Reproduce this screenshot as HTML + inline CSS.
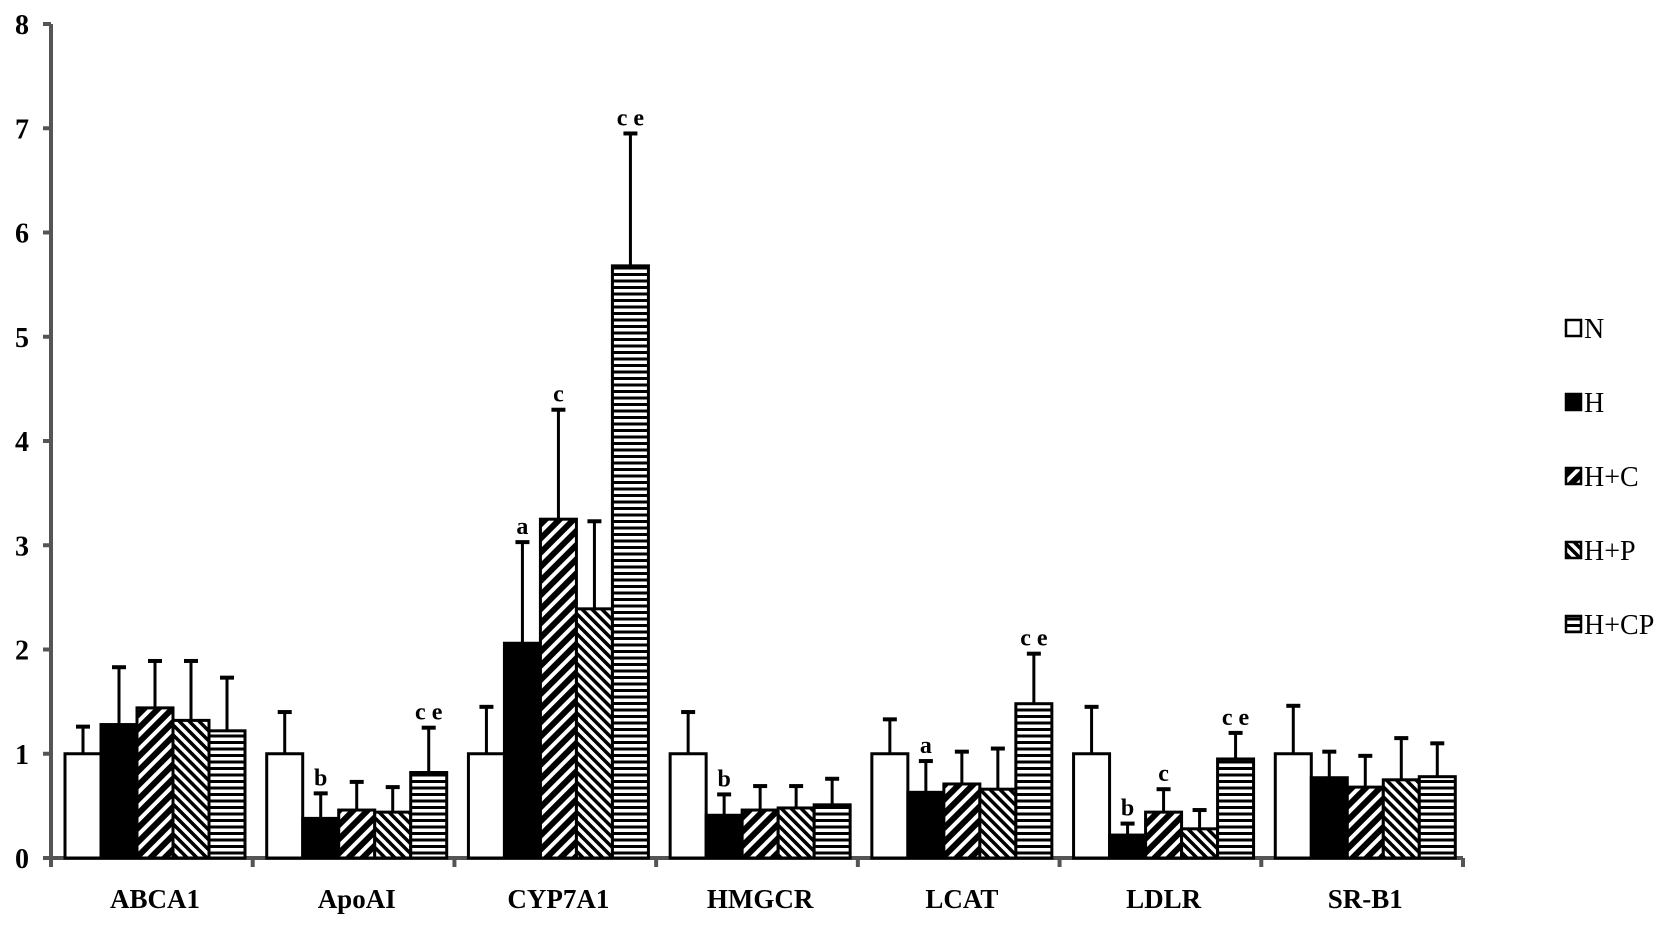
<!DOCTYPE html>
<html><head><meta charset="utf-8"><style>
html,body{margin:0;padding:0;background:#fff;}
svg{display:block;}
text{font-family:"Liberation Serif",serif;}
</style></head>
<body>
<svg id="chart" width="1677" height="925" viewBox="0 0 1677 925" xmlns="http://www.w3.org/2000/svg">
<defs>
<pattern id="pC" patternUnits="userSpaceOnUse" width="10" height="10" patternTransform="rotate(45)">
<rect width="10" height="10" fill="#fff"/><rect width="6" height="10" fill="#000"/></pattern>
<pattern id="pP" patternUnits="userSpaceOnUse" width="7" height="7" patternTransform="rotate(-45)">
<rect width="7" height="7" fill="#fff"/><rect width="3.5" height="7" fill="#000"/></pattern>
<pattern id="pCP" patternUnits="userSpaceOnUse" width="7" height="6.5">
<rect width="7" height="6.5" fill="#fff"/><rect width="7" height="3" fill="#000"/></pattern>
</defs>
</svg>
<script>
const categories = ["ABCA1","ApoAI","CYP7A1","HMGCR","LCAT","LDLR","SR-B1"];
const seriesNames = ["N","H","H+C","H+P","H+CP"];
const valN   = [1.0, 1.0, 1.0, 1.0, 1.0, 1.0, 1.0];
const valH   = [1.28,0.38,2.06,0.41,0.63,0.22,0.77];
const valHC  = [1.44,0.46,3.25,0.46,0.71,0.44,0.68];
const valHP  = [1.32,0.44,2.39,0.48,0.66,0.28,0.75];
const valHCP = [1.22,0.82,5.68,0.51,1.48,0.95,0.78];
const errN   = [0.26,0.40,0.45,0.40,0.33,0.45,0.46];
const errH   = [0.55,0.24,0.97,0.20,0.30,0.11,0.25];
const errHC  = [0.45,0.27,1.05,0.23,0.31,0.22,0.30];
const errHP  = [0.57,0.24,0.84,0.21,0.39,0.18,0.40];
const errHCP = [0.51,0.43,1.27,0.25,0.48,0.25,0.32];
const sigN   = ["","","","","","",""];
const sigH   = ["","b","a","b","a","b",""];
const sigHC  = ["","","c","","","c",""];
const sigHP  = ["","","","","","",""];
const sigHCP = ["","c e","c e","","c e","c e",""];
const yTicks = [0,1,2,3,4,5,6,7,8];

const values=[valN,valH,valHC,valHP,valHCP];
const errs=[errN,errH,errHC,errHP,errHCP];
const sigs=[sigN,sigH,sigHC,sigHP,sigHCP];
const fills=["#fff","#000","url(#pC)","url(#pP)","url(#pCP)"];
const NS="http://www.w3.org/2000/svg";
const svg=document.getElementById('chart');
const X0=51, X1=1463, Y0=858, YTOP=24, YMAX=8;
const catW=(X1-X0)/categories.length;
const barW=36, groupOff=14;
function y(v){return Y0-(v/YMAX)*(Y0-YTOP);}
function xBar(ci,si){return X0+ci*catW+groupOff+si*barW;}
function mk(tag,attrs,parent){const e=document.createElementNS(NS,tag);for(const k in attrs)e.setAttribute(k,attrs[k]);(parent||svg).appendChild(e);return e;}

const axes=mk('g',{});


const ya=mk('line',{x1:X0,y1:YTOP,x2:X0,y2:Y0+2,stroke:'#555','stroke-width':4},axes);


const xa=mk('line',{x1:X0-2,y1:Y0,x2:X1,y2:Y0,stroke:'#555','stroke-width':4},axes);


yTicks.forEach(t=>{
  const tk=mk('line',{x1:X0-8,y1:y(t),x2:X0,y2:y(t),stroke:'#555','stroke-width':4},axes);
  
  
  const lb=mk('text',{x:29,y:y(t)+10,'text-anchor':'end','font-size':28,'font-weight':'bold'},axes);
  lb.textContent=t;
  
  
});
for(let i=0;i<=categories.length;i++){
  const xx=X0+i*catW;
  const tk=mk('line',{x1:xx,y1:Y0,x2:xx,y2:Y0+9,stroke:'#555','stroke-width':4},axes);
  
  
}
categories.forEach((c,ci)=>{
  const lb=mk('text',{x:X0+ci*catW+groupOff+2.5*barW,y:908,'text-anchor':'middle','font-size':27,'font-weight':'bold'});
  lb.textContent=c;
  
  
});

categories.forEach((c,ci)=>{
  values.forEach((arr,si)=>{
    const v=arr[ci], e=errs[si][ci];
    const bx=xBar(ci,si);
    const cx=bx+barW/2;
    const eTop=y(v+e);
    const el=mk('line',{x1:cx,y1:y(v),x2:cx,y2:eTop,stroke:'#000','stroke-width':3});
    
    
    const cap=mk('line',{x1:cx-7,y1:eTop,x2:cx+7,y2:eTop,stroke:'#000','stroke-width':4});
    
    
    const r=mk('rect',{x:bx,y:y(v),width:barW,height:Y0-y(v),fill:fills[si],stroke:'#000','stroke-width':3});
    
    
    const s=sigs[si][ci];
    if(s){
      const t=mk('text',{x:cx,y:eTop-8,'text-anchor':'middle','font-size':24,'font-weight':'bold','xml:space':'preserve'});
      t.textContent=s;
      
      
    }
  });
});

const leg=mk('g',{});


seriesNames.forEach((n,si)=>{
  const ly=328+si*74;
  const g=mk('g',{},leg);
  
  
  mk('rect',{x:1566,y:ly-8,width:15,height:16,fill:fills[si],stroke:'#000','stroke-width':2.5},g);
  const t=mk('text',{x:1584,y:ly+10,'font-size':28},g);
  t.textContent=n;
});
</script>
</body></html>
